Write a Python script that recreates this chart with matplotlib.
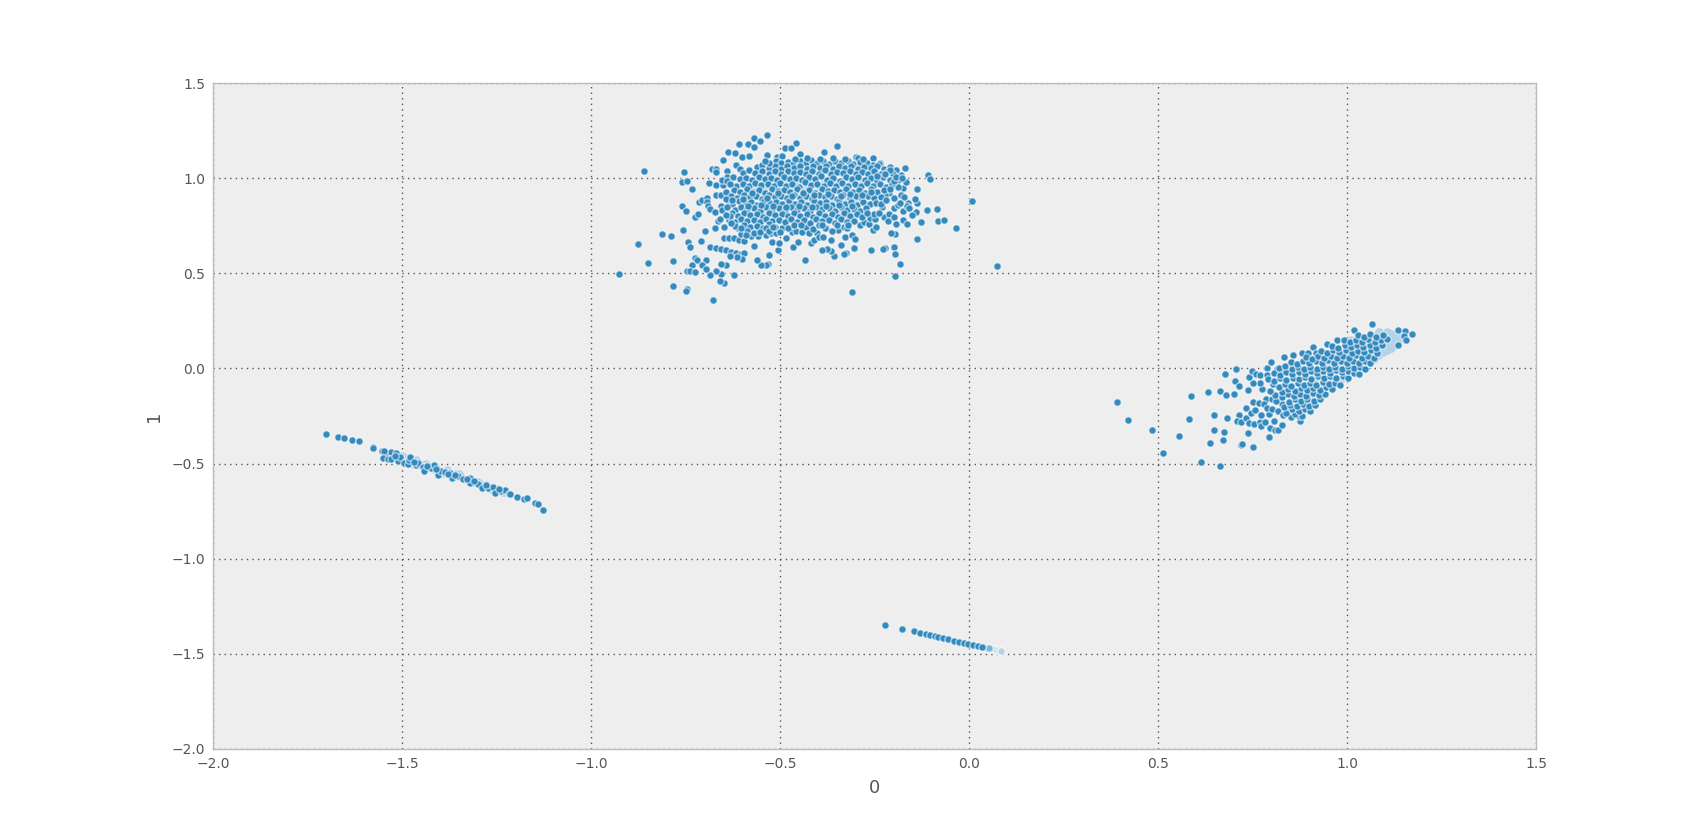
import numpy as np
import matplotlib
matplotlib.use('Agg')
import matplotlib.pyplot as plt

# top cluster, sparse points around the edge
top_edge = [(-0.861,1.037),(-0.755,1.035),(-0.759,0.982),(-0.748,0.986),(-0.735,0.946),(-0.681,1.051),(-0.669,1.049),(-0.669,1.032),
    (-0.640,1.037),(-0.651,1.098),(-0.638,1.138),(-0.619,1.131),(-0.609,1.179),(-0.586,1.182),(-0.571,1.210),(-0.553,1.195),
    (-0.569,1.163),(-0.535,1.226),(-0.601,1.112),(-0.584,1.117),(-0.459,1.184),(-0.488,1.158),(-0.473,1.161),(-0.351,1.168),
    (-0.534,1.121),(-0.618,1.070),(-0.606,1.047),(-0.561,1.061),(-0.510,1.112),(-0.496,1.119),(-0.447,1.128),(-0.384,1.137),
    (-0.301,1.114),(-0.295,1.109),(-0.254,1.109),(-0.237,1.082),(-0.169,1.056),(-0.110,1.018),(-0.103,0.996),(0.007,0.879),
    (0.073,0.539),(-0.139,0.942),(-0.111,0.832),(-0.086,0.839),(-0.082,0.777),(-0.067,0.783),(-0.035,0.739),(-0.129,0.772),
    (-0.142,0.825),(-0.153,0.809),(-0.139,0.869),(-0.143,0.891),(-0.163,0.872),(-0.138,0.683),(-0.197,0.707),(-0.206,0.714),
    (-0.198,0.641),(-0.196,0.602),(-0.183,0.551),(-0.197,0.488),(-0.224,0.634),(-0.229,0.630),(-0.260,0.621),(-0.310,0.404),
    (-0.304,0.632),(-0.325,0.606),(-0.332,0.604),(-0.339,0.649),(-0.359,0.593),(-0.366,0.618),(-0.377,0.627),(-0.391,0.623),
    (-0.434,0.571),(-0.466,0.637),(-0.507,0.623),(-0.531,0.595),(-0.533,0.550),(-0.537,0.543),(-0.550,0.546),(-0.562,0.572),
    (-0.623,0.492),(-0.656,0.499),(-0.670,0.513),(-0.645,0.546),(-0.658,0.551),(-0.648,0.448),(-0.660,0.462),(-0.687,0.490),
    (-0.678,0.359),(-0.748,0.418),(-0.750,0.408),(-0.785,0.434),(-0.928,0.499),(-0.850,0.557),(-0.783,0.564),(-0.876,0.655),
    (-0.812,0.706),(-0.790,0.699),(-0.758,0.730),(-0.743,0.665),(-0.740,0.639),(-0.711,0.672),(-0.700,0.721),(-0.761,0.856),
    (-0.749,0.826),(-0.725,0.798),(-0.717,0.814),(-0.715,0.874),(-0.707,0.884),(-0.695,0.895),(-0.695,0.877),(-0.690,0.974),
    (-0.669,0.963),(-0.653,0.963),(-0.670,0.911),(-0.657,0.914),(-0.645,0.928),(-0.658,0.856),(-0.636,0.877),(-0.692,0.855),
    (-0.686,0.839),(-0.672,0.825),(-0.655,0.832),(-0.666,0.776),(-0.659,0.784),(-0.672,0.739),(-0.649,0.742),(-0.726,0.583),
    (-0.720,0.572),(-0.696,0.569),(-0.707,0.546),(-0.735,0.543),(-0.697,0.523),(-0.747,0.513),(-0.739,0.511),(-0.726,0.506),
    (-0.687,0.639),(-0.669,0.632),(-0.657,0.627),(-0.645,0.621),(-0.631,0.613),(-0.616,0.609),(-0.603,0.602),(-0.596,0.609),
    (-0.602,0.578),(-0.614,0.586),(-0.634,0.592),(-0.650,0.686),(-0.636,0.688),(-0.623,0.685),(-0.609,0.676),(-0.595,0.672),
    (-0.578,0.697),(-0.571,0.642),(-0.558,0.697),(-0.539,0.702),(-0.521,0.667),(-0.504,0.658),(-0.524,0.714),(-0.511,0.711),
    (-0.496,0.737),(-0.484,0.685),(-0.470,0.716),(-0.458,0.725),(-0.454,0.667),(-0.442,0.720),(-0.431,0.746),(-0.424,0.714),
    (-0.419,0.662),(-0.411,0.676),(-0.404,0.714),(-0.398,0.693),(-0.386,0.690),(-0.380,0.737),(-0.365,0.676),(-0.348,0.728),
    (-0.330,0.693),(-0.331,0.742),(-0.324,0.737),(-0.310,0.700),(-0.302,0.683),(-0.290,0.753),(-0.279,0.772),(-0.265,0.758),
    (-0.255,0.728),(-0.246,0.746),(-0.263,0.790),(-0.249,0.784),(-0.253,0.811),(-0.230,0.849),(-0.225,0.795),(-0.213,0.812),
    (-0.214,0.777),(-0.198,0.798),(-0.193,0.760),(-0.200,0.842),(-0.188,0.860),(-0.176,0.830),(-0.176,0.781),(-0.164,0.855),
    (-0.160,0.842),(-0.165,0.760),(-0.182,1.016),(-0.188,0.991),(-0.175,0.947),(-0.190,0.953),(-0.167,0.982),(-0.213,0.921),
    (-0.223,0.911),(-0.199,0.895),(-0.182,0.912),(-0.173,0.900),(-0.183,0.869)]

# top cluster, dense middle, read row by row
top_dense = [(-0.512,1.092),(-0.498,1.079),(-0.481,1.088),(-0.466,1.075),(-0.448,1.091),(-0.431,1.08),(-0.418,1.095),(-0.402,1.078),
    (-0.386,1.089),(-0.371,1.074),(-0.356,1.093),(-0.339,1.081),(-0.322,1.09),(-0.307,1.076),(-0.289,1.087),(-0.271,1.078),
    (-0.255,1.07),(-0.24,1.073),(-0.548,1.068),(-0.53,1.055),(-0.515,1.063),(-0.497,1.05),(-0.482,1.066),(-0.464,1.052),
    (-0.447,1.062),(-0.43,1.049),(-0.413,1.064),(-0.396,1.053),(-0.379,1.067),(-0.362,1.05),(-0.345,1.062),(-0.328,1.054),
    (-0.312,1.066),(-0.295,1.048),(-0.278,1.06),(-0.26,1.052),(-0.243,1.063),(-0.226,1.047),(-0.209,1.058),(-0.193,1.044),
    (-0.598,1.03),(-0.582,1.042),(-0.566,1.026),(-0.548,1.038),(-0.531,1.023),(-0.514,1.036),(-0.498,1.024),
    (-0.481,1.04),(-0.465,1.027),(-0.449,1.035),(-0.432,1.02),(-0.416,1.037),(-0.399,1.025),(-0.383,1.041),(-0.366,1.022),
    (-0.35,1.034),(-0.334,1.026),(-0.317,1.038),(-0.301,1.021),(-0.284,1.035),(-0.268,1.024),(-0.251,1.037),(-0.235,1.022),
    (-0.218,1.033),(-0.202,1.02),(-0.642,1.005),(-0.624,1.008),(-0.607,0.995),(-0.59,1.004),
    (-0.574,0.99),(-0.557,1.007),(-0.541,0.994),(-0.524,1.003),(-0.508,0.989),(-0.491,1.009),(-0.475,0.996),(-0.458,1.004),
    (-0.442,0.991),(-0.425,1.006),(-0.409,0.995),(-0.392,1.01),(-0.376,0.992),(-0.36,1.003),(-0.343,0.988),(-0.327,1.007),
    (-0.31,0.994),(-0.294,1.005),(-0.277,0.99),(-0.261,1.002),(-0.244,0.987),(-0.228,1.006),(-0.211,0.993),
    (-0.616,0.961),(-0.6,0.971),(-0.583,0.958),(-0.566,0.977),(-0.55,0.963),(-0.533,0.972),
    (-0.517,0.957),(-0.5,0.975),(-0.484,0.962),(-0.468,0.97),(-0.451,0.956),(-0.435,0.978),(-0.418,0.964),(-0.402,0.972),
    (-0.385,0.959),(-0.369,0.976),(-0.352,0.96),(-0.336,0.973),(-0.32,0.957),(-0.303,0.971),(-0.287,0.961),(-0.27,0.976),
    (-0.254,0.958),(-0.237,0.97),(-0.221,0.955),(-0.204,0.968),(-0.622,0.94),(-0.606,0.928),(-0.589,0.944),
    (-0.573,0.93),(-0.556,0.938),(-0.54,0.925),(-0.523,0.946),(-0.507,0.931),(-0.49,0.941),(-0.474,0.926),(-0.457,0.943),
    (-0.441,0.929),(-0.424,0.939),(-0.408,0.924),(-0.391,0.945),(-0.375,0.932),(-0.358,0.94),(-0.342,0.927),(-0.325,0.944),
    (-0.309,0.93),(-0.292,0.938),(-0.276,0.923),(-0.259,0.942),(-0.243,0.928),(-0.226,0.937),
    (-0.63,0.908),(-0.614,0.896),(-0.597,0.912),(-0.581,0.899),(-0.564,0.906),(-0.548,0.893),(-0.531,0.914),(-0.515,0.9),
    (-0.498,0.909),(-0.482,0.894),(-0.465,0.911),(-0.449,0.897),(-0.432,0.906),(-0.416,0.892),(-0.399,0.913),(-0.383,0.899),
    (-0.366,0.907),(-0.35,0.893),(-0.333,0.91),(-0.317,0.896),(-0.3,0.905),(-0.284,0.891),(-0.267,0.909),(-0.251,0.897),
    (-0.234,0.904),(-0.627,0.865),(-0.61,0.88),(-0.594,0.868),(-0.577,0.876),
    (-0.561,0.862),(-0.544,0.882),(-0.528,0.869),(-0.511,0.877),(-0.495,0.863),(-0.478,0.88),(-0.462,0.866),(-0.445,0.874),
    (-0.429,0.86),(-0.412,0.881),(-0.396,0.868),(-0.379,0.875),(-0.363,0.861),(-0.346,0.879),(-0.33,0.865),(-0.313,0.873),
    (-0.297,0.859),(-0.28,0.877),(-0.264,0.864),(-0.247,0.872),(-0.62,0.834),
    (-0.603,0.85),(-0.587,0.836),(-0.57,0.844),(-0.554,0.83),(-0.537,0.851),(-0.521,0.838),(-0.504,0.845),(-0.488,0.831),
    (-0.471,0.848),(-0.455,0.835),(-0.438,0.843),(-0.422,0.829),(-0.405,0.849),(-0.389,0.836),(-0.372,0.844),(-0.356,0.83),
    (-0.339,0.847),(-0.323,0.833),(-0.306,0.841),(-0.29,0.828),(-0.273,0.845),
    (-0.628,0.815),(-0.612,0.802),(-0.595,0.818),(-0.579,0.805),(-0.562,0.812),(-0.546,0.799),(-0.529,0.82),(-0.513,0.806),
    (-0.496,0.813),(-0.48,0.8),(-0.463,0.817),(-0.447,0.803),(-0.43,0.811),(-0.414,0.798),(-0.397,0.818),(-0.381,0.804),
    (-0.364,0.812),(-0.348,0.799),(-0.331,0.815),(-0.315,0.802),(-0.298,0.81),
    (-0.636,0.783),(-0.62,0.77),(-0.603,0.786),(-0.587,0.773),(-0.57,0.78),(-0.554,0.768),(-0.537,0.788),(-0.521,0.775),
    (-0.504,0.782),(-0.488,0.769),(-0.471,0.785),(-0.455,0.772),(-0.438,0.779),(-0.422,0.766),(-0.405,0.787),(-0.389,0.773),
    (-0.372,0.78),(-0.356,0.767),(-0.339,0.784),(-0.323,0.771),(-0.306,0.778),(-0.612,0.74),(-0.595,0.755),(-0.579,0.742),
    (-0.562,0.749),(-0.546,0.737),(-0.529,0.757),(-0.513,0.744),(-0.48,0.738),(-0.463,0.754),(-0.414,0.735),(-0.397,0.752),
    (-0.381,0.74),(-0.364,0.725),(-0.603,0.708),(-0.587,0.724),(-0.57,0.712),(-0.554,0.718),(-0.537,0.736)]

# pale halo under the dark dots in the top cluster
top_haze = [(-0.52,1.07),(-0.505,1.04),(-0.49,1.075),(-0.473,1.045),(-0.456,1.078),(-0.44,1.04),(-0.423,1.072),(-0.405,1.042),
    (-0.388,1.076),(-0.37,1.04),(-0.353,1.07),(-0.337,1.045),(-0.32,1.074),(-0.303,1.04),(-0.286,1.07),(-0.27,1.043),(-0.25,1.05),
    (-0.54,1.015),(-0.522,0.985),(-0.505,1.012),(-0.486,0.982),(-0.47,1.015),(-0.45,0.98),(-0.434,1.01),(-0.415,0.982),(-0.4,1.015),
    (-0.382,0.98),(-0.365,1.012),(-0.348,0.98),(-0.33,1.016),(-0.314,0.982),(-0.296,1.012),(-0.28,0.978),(-0.263,1.014),(-0.246,0.98),
    (-0.57,0.95),(-0.552,0.925),(-0.535,0.955),(-0.515,0.922),(-0.498,0.955),(-0.48,0.92),(-0.464,0.952),(-0.446,0.92),(-0.43,0.955),
    (-0.412,0.922),(-0.395,0.952),(-0.378,0.918),(-0.36,0.954),(-0.343,0.92),(-0.326,0.95),(-0.31,0.915),(-0.292,0.95),(-0.275,0.915),
    (-0.58,0.888),(-0.562,0.855),(-0.545,0.89),(-0.526,0.852),(-0.508,0.888),(-0.49,0.85),(-0.474,0.888),(-0.456,0.85),(-0.44,0.886),
    (-0.422,0.852),(-0.404,0.888),(-0.386,0.85),(-0.37,0.886),(-0.352,0.85),(-0.335,0.884),(-0.318,0.848),(-0.3,0.884),
    (-0.57,0.825),(-0.55,0.79),(-0.532,0.825),(-0.514,0.79),(-0.497,0.825),(-0.478,0.79),(-0.46,0.826),(-0.442,0.79),(-0.425,0.822),
    (-0.408,0.79),(-0.39,0.82),(-0.372,0.79),(-0.354,0.82),(-0.335,0.79)]

# extra dark dots that break up the row pattern in the top cluster
top_fill = [(-0.655,0.99),(-0.64,0.985),(-0.632,0.972),(-0.645,0.89),(-0.64,0.85),(-0.628,0.885),(-0.633,0.8),(-0.645,0.808),
    (-0.62,0.75),(-0.63,0.765),(-0.605,0.74),(-0.59,0.7),(-0.53,0.725),(-0.52,0.745),(-0.5,0.72),(-0.445,0.755),(-0.39,0.755),
    (-0.35,0.755),(-0.32,0.755),(-0.285,0.795),(-0.27,0.815),(-0.24,0.82),(-0.235,0.865),(-0.22,0.885),(-0.21,0.945),(-0.2,0.985),
    (-0.195,1.005),(-0.178,1.0),(-0.21,1.045),(-0.222,1.02),(-0.245,1.01),(-0.26,0.93),(-0.285,0.91),(-0.315,0.915),(-0.34,0.905),
    (-0.375,0.915),(-0.41,0.91),(-0.44,0.92),(-0.47,0.905),(-0.505,0.92),(-0.535,0.895),(-0.575,0.92),(-0.6,0.89),(-0.585,0.855),
    (-0.55,0.86),(-0.52,0.855),(-0.485,0.85),(-0.45,0.855),(-0.415,0.85),(-0.38,0.855),(-0.345,0.86),(-0.31,0.855),(-0.53,1.08),
    (-0.54,1.09),(-0.46,1.1),(-0.43,1.105),(-0.395,1.102),(-0.36,1.108),(-0.33,1.1),(-0.28,1.1)]

# right cluster, sparse points on the lower left
right_edge = [(0.392,-0.175),(0.420,-0.270),(0.483,-0.326),(0.512,-0.445),(0.556,-0.356),(0.582,-0.266),(0.587,-0.145),
    (0.613,-0.491),(0.664,-0.513),(0.637,-0.393),(0.646,-0.321),(0.647,-0.247),(0.631,-0.126),(0.664,-0.117),(0.678,-0.142),
    (0.677,-0.028),(0.705,-0.005),(0.703,-0.065),(0.713,-0.093),(0.700,-0.135),(0.738,-0.114),(0.683,-0.263),(0.673,-0.333),
    (0.670,-0.377),(0.718,-0.405),(0.722,-0.398),(0.750,-0.412),(0.737,-0.338),(0.794,-0.358),(0.713,-0.244),(0.707,-0.275),
    (0.720,-0.280),(0.733,-0.210),(0.731,-0.261),(0.741,-0.289),(0.754,-0.293),(0.770,-0.279),(0.772,-0.303),(0.782,-0.284),
    (0.795,-0.314),(0.810,-0.321),(0.817,-0.324),(0.827,-0.296),(0.806,-0.275),(0.744,-0.233),(0.755,-0.219),(0.772,-0.245),
    (0.793,-0.237),(0.750,-0.175),(0.766,-0.181),(0.784,-0.163),(0.800,-0.163),(0.780,-0.189),(0.787,-0.210),(0.801,-0.214),
    (0.817,-0.224),(0.828,-0.188),(0.832,-0.237),(0.843,-0.216),(0.850,-0.254),(0.857,-0.223),(0.868,-0.230),(0.876,-0.275),
    (0.873,-0.249),(0.775,-0.110),(0.770,-0.075),(0.750,-0.077),(0.740,-0.046),(0.747,-0.014),(0.758,-0.028),(0.770,-0.032),
    (0.788,0.005),(0.798,0.032),(0.787,-0.032),(0.815,-0.004),(0.833,-0.007),(0.832,0.058),(0.857,0.072),(0.879,0.079),
    (0.896,0.079),(0.908,0.112),(0.918,0.082),(0.946,0.128),(0.974,0.152),(1.066,0.235),(1.019,0.202),(1.133,0.202),
    (1.152,0.198),(1.172,0.181),(1.149,0.170),(1.156,0.152),(1.133,0.121)]

# right cluster, dense band
right_dense = [(0.83,-0.245),(0.862,-0.242),(0.879,-0.252),(0.838,-0.232),(0.854,-0.215),(0.871,-0.226),
    (0.888,-0.212),(0.902,-0.224),(0.833,-0.205),(0.849,-0.19),(0.866,-0.2),(0.882,-0.188),(0.899,-0.198),
    (0.915,-0.19),(0.812,-0.17),(0.845,-0.178),(0.861,-0.162),(0.878,-0.172),(0.894,-0.16),(0.911,-0.17),
    (0.927,-0.162),(0.81,-0.14),(0.826,-0.15),(0.843,-0.135),(0.859,-0.145),(0.876,-0.133),(0.892,-0.143),(0.909,-0.13),
    (0.925,-0.14),(0.942,-0.135),(0.795,-0.12),(0.828,-0.123),(0.844,-0.108),(0.861,-0.118),(0.877,-0.105),
    (0.894,-0.115),(0.91,-0.102),(0.927,-0.112),(0.943,-0.1),(0.96,-0.11),(0.803,-0.08),(0.819,-0.095),
    (0.836,-0.082),(0.852,-0.09),(0.869,-0.078),(0.885,-0.088),(0.902,-0.075),(0.918,-0.085),(0.935,-0.072),(0.951,-0.082),
    (0.968,-0.075),(0.98,-0.085),(0.79,-0.055),(0.806,-0.065),(0.823,-0.05),(0.839,-0.06),(0.856,-0.048),(0.872,-0.058),
    (0.889,-0.045),(0.905,-0.055),(0.922,-0.042),(0.938,-0.052),(0.955,-0.04),(0.971,-0.05),(0.988,-0.042),(1.002,-0.05),
    (0.805,-0.025),(0.821,-0.035),(0.838,-0.02),(0.854,-0.03),(0.871,-0.018),(0.887,-0.028),(0.904,-0.015),(0.92,-0.025),
    (0.937,-0.012),(0.953,-0.022),(0.97,-0.01),(0.986,-0.02),(1.003,-0.012),(1.019,-0.022),(1.03,-0.03),(0.82,0.002),
    (0.836,0.012),(0.853,-0.003),(0.869,0.008),(0.886,-0.005),(0.902,0.006),(0.919,-0.002),(0.935,0.01),(0.952,-0.004),
    (0.968,0.007),(0.985,-0.001),(1.001,0.011),(1.018,0.0),(1.034,0.008),(1.046,-0.003),(0.85,0.035),(0.866,0.025),
    (0.883,0.038),(0.899,0.028),(0.916,0.04),(0.932,0.03),(0.949,0.042),(0.965,0.027),(0.982,0.039),(0.998,0.029),
    (1.015,0.041),(1.031,0.031),(1.048,0.04),(1.06,0.028),(0.89,0.06),(0.906,0.052),(0.923,0.066),(0.939,0.056),
    (0.956,0.068),(0.972,0.054),(0.989,0.067),(1.005,0.057),(1.022,0.069),(1.038,0.055),(1.055,0.066),(1.071,0.056),
    (0.93,0.092),(0.946,0.082),(0.963,0.095),(0.979,0.084),(0.996,0.097),(1.012,0.083),(1.029,0.094),
    (1.045,0.085),(1.062,0.097),(1.078,0.083),(0.96,0.12),(0.976,0.11),(0.993,0.123),
    (1.009,0.111),(1.026,0.125),(1.042,0.113),(1.059,0.124),(1.075,0.11),(1.092,0.122),
    (0.99,0.15),(1.006,0.138),(1.023,0.152),(1.039,0.14),(1.056,0.153),(1.072,0.139),(1.089,0.15),
    (1.105,0.155),(1.028,0.178),(1.044,0.168),(1.061,0.18),(1.077,0.167),(1.094,0.178)]

# pale wash around the dense band and its tip
right_haze = [(0.9,-0.16),(0.915,-0.12),(0.93,-0.09),(0.95,-0.06),(0.965,-0.03),(0.98,-0.06),(0.995,-0.03),(1.01,-0.005),(1.025,0.015),
    (1.04,0.02),(1.055,0.04),(1.07,0.05),(1.08,0.07),(1.095,0.085),(1.105,0.095),(1.115,0.11),(1.125,0.125),(1.135,0.14),
    (0.98,0.02),(0.995,0.045),(1.01,0.07),(1.025,0.05),(1.04,0.075),(1.055,0.085),(1.07,0.095),(1.085,0.105),(1.1,0.12),
    (1.11,0.13),(1.12,0.145),(1.13,0.155),(1.14,0.17),(1.125,0.18),(1.11,0.185),(1.1,0.175),(1.09,0.165),(1.08,0.145),
    (1.065,0.135),(1.05,0.13),(1.035,0.125),(1.02,0.11),(1.005,0.095),(0.99,0.08),(0.975,0.07),(0.96,0.05),(0.945,0.02),
    (0.93,-0.02),(0.915,-0.05),(0.9,-0.08),(0.885,-0.12),(0.87,-0.16),(1.115,0.165),(1.095,0.14),(1.075,0.13),(1.06,0.11),
    (1.045,0.1),(1.03,0.085),(1.015,0.06),(1.0,0.03),(0.985,0.01),(0.97,-0.02),(0.955,-0.05),(0.94,-0.08),(0.925,-0.13),
    (1.05,0.16),(1.07,0.17),(1.085,0.19),(1.105,0.19),(1.03,0.16),(1.01,0.15)]

# long thin cluster on the left
left_pts = [(-1.553,-0.435),(-1.542,-0.442),(-1.531,-0.439),(-1.549,-0.432),(-1.55,-0.47),(-1.539,-0.475),(-1.53,-0.474),(-1.517,-0.447),
    (-1.511,-0.486),(-1.505,-0.468),(-1.495,-0.495),(-1.484,-0.505),(-1.482,-0.482),(-1.48,-0.465),(-1.464,-0.509),(-1.458,-0.495),
    (-1.446,-0.518),(-1.444,-0.539),(-1.425,-0.525),(-1.416,-0.509),(-1.405,-0.561),(-1.399,-0.537),(-1.387,-0.544),(-1.374,-0.549),
    (-1.37,-0.574),(-1.352,-0.565),(-1.34,-0.582),(-1.321,-0.574),(-1.32,-0.603),(-1.301,-0.609),(-1.289,-0.631),(-1.274,-0.631),
    (-1.261,-0.621),(-1.254,-0.654),(-1.24,-0.645),(-1.228,-0.638),(-1.219,-0.658),(-1.215,-0.661),(-1.47,-0.492),(-1.435,-0.512),
    (-1.41,-0.53),(-1.38,-0.553),(-1.36,-0.558),(-1.33,-0.58),(-1.31,-0.592),(-1.28,-0.613),(-1.245,-0.635),(-1.52,-0.462)]
left_haze = [(-1.54,-0.455),(-1.525,-0.458),(-1.51,-0.46),(-1.5,-0.478),(-1.49,-0.472),(-1.475,-0.488),(-1.47,-0.5),(-1.452,-0.508),
    (-1.438,-0.505),(-1.43,-0.518),(-1.41,-0.522),(-1.395,-0.55),(-1.382,-0.535),(-1.362,-0.553),(-1.36,-0.56),(-1.345,-0.57),
    (-1.33,-0.585),(-1.315,-0.59),(-1.31,-0.598),(-1.295,-0.605),(-1.28,-0.615),(-1.265,-0.632),(-1.25,-0.632),(-1.235,-0.65),
    (-1.225,-0.648),(-1.5,-0.46),(-1.465,-0.48),(-1.415,-0.53),(-1.35,-0.555),(-1.3,-0.595)]
left_tail = [(-1.701,-0.346),(-1.669,-0.358),(-1.655,-0.365),(-1.632,-0.376),(-1.616,-0.383),(-1.578,-0.411),(-1.577,-0.418),
    (-1.196,-0.674),(-1.177,-0.688),(-1.169,-0.679),(-1.150,-0.705),(-1.140,-0.714),(-1.128,-0.742)]

# short cluster at the bottom, fading out at its tip
bottom_pts = [(-0.224,-1.348),(-0.178,-1.369),(-0.146,-1.383),(-0.130,-1.391),(-0.115,-1.397),(-0.104,-1.402),(-0.091,-1.407),
    (-0.082,-1.412),(-0.070,-1.419),(-0.057,-1.425),(-0.041,-1.432),(-0.027,-1.437),(-0.014,-1.442),(-0.003,-1.447),(0.011,-1.453),
    (0.023,-1.458),(0.033,-1.463)]
bottom_mid = [(0.04,-1.466),(0.046,-1.469),(0.052,-1.472)]
bottom_tip = [(0.058,-1.474),(0.064,-1.477),(0.07,-1.48),(0.076,-1.483),(0.08,-1.485),(0.083,-1.486)]

x_ticks = [-2.0, -1.5, -1.0, -0.5, 0.0, 0.5, 1.0, 1.5]
y_ticks = [-2.0, -1.5, -1.0, -0.5, 0.0, 0.5, 1.0, 1.5]

dark = np.array(top_edge + top_dense + top_fill + right_edge + right_dense + left_pts + left_tail + bottom_pts)
haze = np.array(top_haze + right_haze + left_haze)
tip = np.array(bottom_tip)
mid = np.array(bottom_mid)

fig = plt.figure(figsize=(17.07, 8.32), dpi=100)
ax = fig.add_axes([0.125, 0.1, 0.775, 0.8])
ax.set_facecolor('#eeeeee')
edge = (1, 1, 1, 0.55)
ax.scatter(haze[:, 0], haze[:, 1], s=38, c='#b5d3e6', linewidths=0, zorder=3)
ax.scatter(tip[:, 0], tip[:, 1], s=28, c='#b5d3e6', edgecolors=edge, linewidths=1.0, zorder=3)
ax.scatter(mid[:, 0], mid[:, 1], s=28, c='#7fb3d5', edgecolors=edge, linewidths=1.0, zorder=3)
ax.scatter(dark[:, 0], dark[:, 1], s=28, c='#348abd', edgecolors=edge, linewidths=1.0, zorder=4)
ax.set_xlim(-2, 1.5)
ax.set_ylim(-2, 1.5)
ax.set_xticks(x_ticks)
ax.set_yticks(y_ticks)
ax.grid(True, color='#555555', linestyle=(0, (1, 3)), linewidth=1.0)
ax.set_axisbelow(True)
ax.tick_params(length=0, labelsize=10, colors='#555555', pad=6)
for s in ax.spines.values():
    s.set_color('#bcbcbc')
    s.set_linewidth(1.0)
ax.set_xlabel('0', fontsize=13, color='#555555', labelpad=6)
ax.set_ylabel('1', fontsize=13, color='#555555', labelpad=6)
fig.savefig('out.png', dpi=100)
